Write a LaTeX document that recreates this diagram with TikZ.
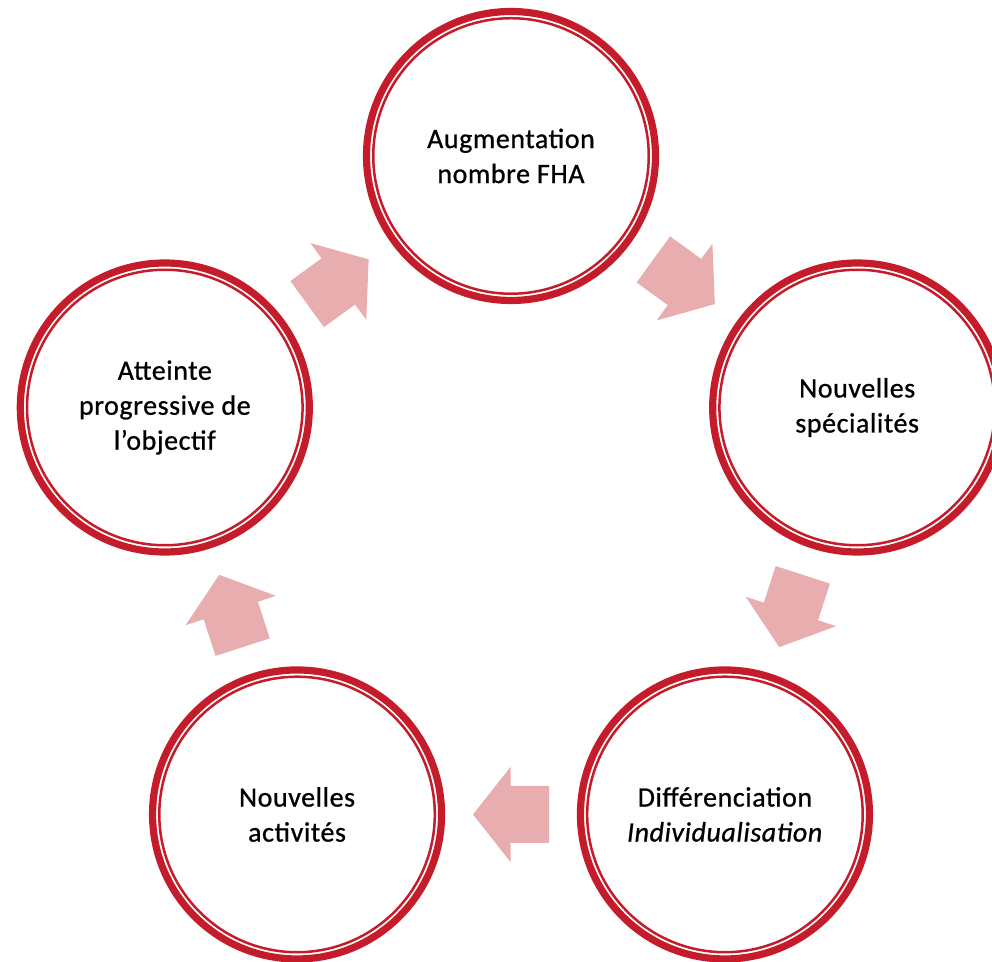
\documentclass[tikz,border=0pt]{standalone}
\usepackage{fontspec}
\setmainfont{Carlito}[FakeBold=0.8,LetterSpace=2]
\usetikzlibrary{calc}
\definecolor{ringred}{RGB}{196,28,42}
\definecolor{arrowpink}{RGB}{232,173,174}
\tikzset{
  stage/.style={circle, draw=ringred, line width=1.25pt, minimum size=137.75pt, inner sep=0pt,
    align=center, font=\fontsize{14}{17.5}\selectfont, text=black},
  outerring/.style={draw=ringred, line width=3.6pt},
  blockarrow/.style={fill=arrowpink, draw=none}
}
\newcommand{\blockarrowpath}{(-38,-28.5) -- (0.5,-28.5) -- (0.5,-47.5) -- (38,0) -- (0.5,47.5) -- (0.5,28.5) -- (-38,28.5) -- cycle}
\begin{document}
\begin{tikzpicture}[x=0.5pt,y=0.5pt]
\useasboundingbox (0,0) rectangle (992,962);
\clip (0,0) rectangle (992,962);
\coordinate (O) at (511,442);
\node[stage] (T)  at ($(O)+(90:364)$)  {Augmentation\\nombre FHA};
\node[stage] (R)  at ($(O)+(18:364)$)  {Nouvelles\\spécialités};
\node[stage] (BR) at ($(O)+(-54:364)$) {Différenciation\\\textit{Individualisation}};
\node[stage] (BL) at ($(O)+(234:364)$) {Nouvelles\\activités};
\node[stage] (L)  at ($(O)+(162:364)$) {Atteinte\\progressive de\\l’objectif};
\foreach \n in {T,R,BR,BL,L}{
  \draw[outerring] (\n.center) circle[radius=72.25pt];
}
\fill[blockarrow, shift={($(L)!0.5!(T)$)}, rotate=36] \blockarrowpath;
\fill[blockarrow, shift={($(T)!0.5!(R)$)}, rotate=-36] \blockarrowpath;
\fill[blockarrow, shift={($(R)!0.5!(BR)$)}, rotate=-108] \blockarrowpath;
\fill[blockarrow, shift={($(BR)!0.5!(BL)$)}, rotate=180] \blockarrowpath;
\fill[blockarrow, shift={($(BL)!0.5!(L)$)}, rotate=108] \blockarrowpath;
\end{tikzpicture}
\end{document}
